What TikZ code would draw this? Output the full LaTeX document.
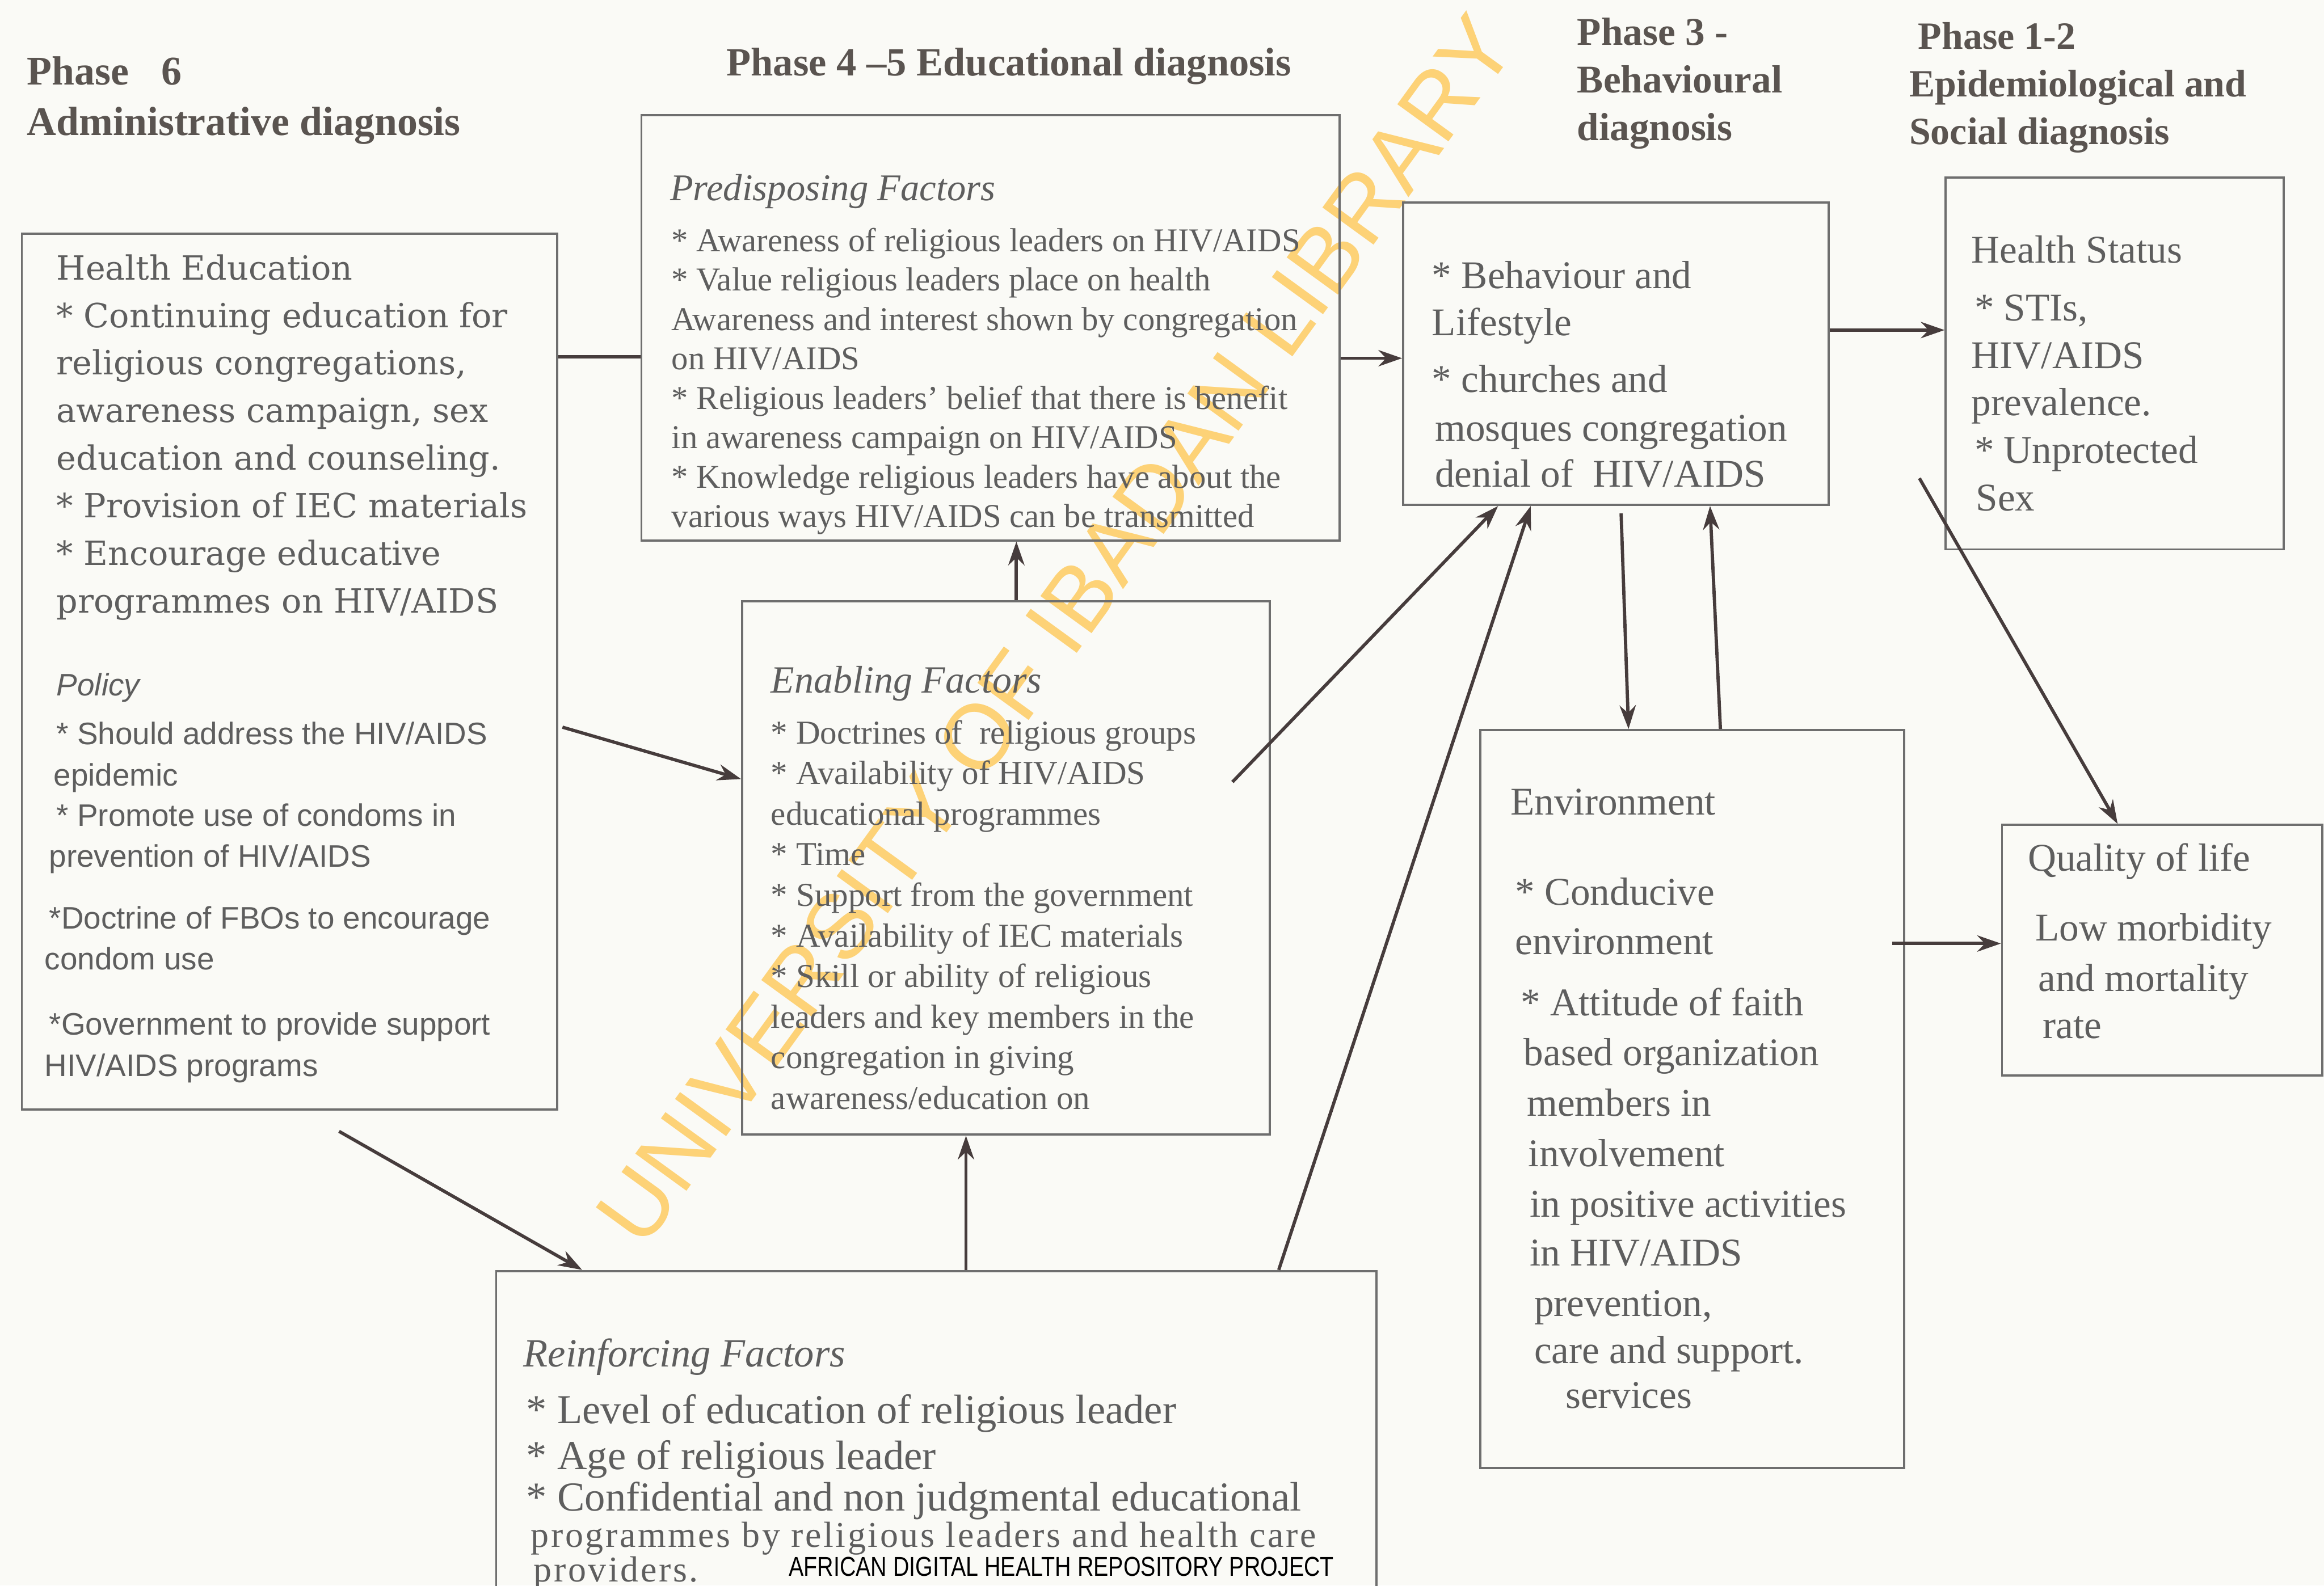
\documentclass[tikz,border=0pt]{standalone}
\usepackage{fontspec}
\setmainfont{Liberation Serif}
\newfontfamily\hefont{DejaVu Serif}
\newfontfamily\polfont{Liberation Sans}
\newfontfamily\wmfont{Liberation Sans}
\newfontfamily\footfont[FakeStretch=0.82]{Liberation Sans}
\newfontfamily\spacedfont[LetterSpace=5.6]{Liberation Serif}
\usetikzlibrary{arrows.meta}
\definecolor{bgc}{HTML}{FAFAF6}
\definecolor{boxc}{HTML}{6E6E6E}
\definecolor{txtc}{HTML}{5E5E5E}
\definecolor{headc}{HTML}{5A5450}
\definecolor{arrc}{HTML}{463C3C}
\definecolor{wmc}{HTML}{FDD277}
\begin{document}
\begin{tikzpicture}[x=1pt,y=-1pt,
  box/.style={draw=boxc, line width=1.5pt, inner sep=0pt, anchor=north west},
  txt/.style={anchor=north west, inner sep=0pt, align=left, text=txtc},
  head/.style={anchor=north west, inner sep=0pt, align=left, text=headc, font=\fontsize{27.5}{34}\selectfont\bfseries},
  arr/.style={draw=arrc, line width=2.2pt, -{Stealth[length=16pt,width=11pt]}},
  link/.style={draw=arrc, line width=2.2pt}]
\path[use as bounding box] (0,0) rectangle (1568,1070);
\fill[bgc] (0,0) rectangle (1568,1070);
\clip (0,0) rectangle (1568,1070);

% watermark
\node[rotate=54, text=wmc, font=\wmfont\fontsize{62}{62}\selectfont, inner sep=0pt] (wm) at (712,425) {UNIVERSITY OF IBADAN LIBRARY};

% headings
\node[head] (h6) at (18,38) {Phase\hspace{22pt}6\\ Administrative diagnosis};
\node[head, font=\fontsize{27}{34}\selectfont\bfseries] (h45) at (490,32) {Phase 4 –5 Educational diagnosis};
\node[head, font=\fontsize{26.5}{32}\selectfont\bfseries] (h3) at (1064,12) {Phase 3 -\\ Behavioural\\ diagnosis};
\node[head, font=\fontsize{26}{32}\selectfont\bfseries] (h12) at (1288,15) {\hspace*{6pt}Phase 1-2\\ Epidemiological and\\ Social diagnosis};

% boxes
\node[box, minimum width=361pt, minimum height=591pt] (adm) at (14,157) {};
\node[box, minimum width=471pt, minimum height=287pt] (pred) at (432,77) {};
\node[box, minimum width=356pt, minimum height=360pt] (enab) at (500,405) {};
\node[box, minimum width=594pt, minimum height=240pt] (reinf) at (334,857) {};
\node[box, minimum width=287pt, minimum height=204pt] (beh) at (946,136) {};
\node[box, minimum width=228pt, minimum height=251pt] (hs) at (1312,119) {};
\node[box, minimum width=286pt, minimum height=498pt] (env) at (998,492) {};
\node[box, minimum width=216pt, minimum height=169pt] (qol) at (1350,556) {};

% left box text
\node[txt, font=\hefont\fontsize{22.5}{32.1}\selectfont] (hetxt) at (38,171.5) {Health Education\\ {*} Continuing education for\\ religious congregations,\\ awareness campaign, sex\\ education and counseling.\\ {*} Provision of IEC materials\\ {*} Encourage educative\\ programmes on HIV/AIDS};
\node[txt, font=\polfont\fontsize{21}{27.3}\selectfont] (pol) at (30,454) {\hspace*{8pt}\textit{Policy}\\[5.7pt]
 \hspace*{8pt}{*} Should address the HIV/AIDS\\[0.7pt]
 \hspace*{6pt}epidemic\\
 \hspace*{8pt}{*} Promote use of condoms in\\
 \hspace*{3pt}prevention of HIV/AIDS\\[14.7pt]
 \hspace*{3pt}{*}Doctrine of FBOs to encourage\\
 condom use\\[16.7pt]
 \hspace*{3pt}{*}Government to provide support\\[0.7pt]
 HIV/AIDS programs};

% predisposing
\node[txt, font=\itshape\fontsize{25.5}{30}\selectfont] (predt) at (452,117.6) {Predisposing Factors};
\node[txt, font=\fontsize{22.5}{26.6}\selectfont] (predl) at (453,153.6) {{*} Awareness of religious leaders on HIV/AIDS\\ {*} Value religious leaders place on health\\ Awareness and interest shown by congregation\\ on HIV/AIDS\\ {*} Religious leaders’ belief that there is benefit\\ in awareness campaign on HIV/AIDS\\ {*} Knowledge religious leaders have about the\\ various ways HIV/AIDS can be transmitted};

% enabling
\node[txt, font=\itshape\fontsize{26}{30}\selectfont] (enabt) at (520,449.4) {Enabling Factors};
\node[txt, font=\fontsize{22.6}{27.4}\selectfont] (enabl) at (520,485.8) {{*} Doctrines of\ \ religious groups\\ {*} Availability of HIV/AIDS\\ educational programmes\\ {*} Time\\ {*} Support from the government\\ {*} Availability of IEC materials\\ {*} Skill or ability of religious\\ leaders and key members in the\\ congregation in giving\\ awareness/education on};

% reinforcing
\node[txt, font=\itshape\fontsize{27}{30}\selectfont] (reint) at (353,903) {Reinforcing Factors};
\node[txt, font=\fontsize{27.8}{31}\selectfont] (reinl) at (355,940.7) {{*} Level of education of religious leader\\ {*} Age of religious leader\\[-3pt] {*} Confidential and non judgmental educational};
\node[txt, font=\spacedfont\fontsize{24.5}{21.5}\selectfont] (reinl2) at (358,1027) {programmes by religious leaders and health care\\ \hspace*{2pt}providers.};
\node[anchor=north west, inner sep=0pt, font=\footfont\fontsize{18.4}{20}\selectfont, text=black] (foot) at (532,1050.4) {AFRICAN DIGITAL HEALTH REPOSITORY PROJECT};

% behaviour
\node[txt, font=\fontsize{26.5}{32}\selectfont] (behl) at (966,176) {{*} Behaviour and\\ Lifestyle\\[6pt] {*} churches and\\[1pt] \hspace*{2pt}mosques congregation\\[-1pt] \hspace*{2pt}denial of\ \ HIV/AIDS};

% health status
\node[txt, font=\fontsize{26.5}{32}\selectfont] (hsl) at (1330,159) {Health Status\\[7pt] \hspace*{2pt}{*} STIs,\\ HIV/AIDS\\ prevalence.\\ \hspace*{2pt}{*} Unprotected\\ \hspace*{3pt}Sex};

% environment
\node[txt, font=\fontsize{26.5}{33.5}\selectfont] (envl) at (1019,532) {Environment\\[27.5pt]
 \hspace*{3pt}{*} Conducive\\
 \hspace*{3pt}environment\\[7.5pt]
 \hspace*{7pt}{*} Attitude of faith\\[0.5pt]
 \hspace*{9pt}based organization\\[0.5pt]
 \hspace*{11pt}members in\\[0.5pt]
 \hspace*{12pt}involvement\\[0.5pt]
 \hspace*{13pt}in positive activities\\[-0.5pt]
 \hspace*{13pt}in HIV/AIDS\\[0.5pt]
 \hspace*{16pt}prevention,\\[-1.5pt]
 \hspace*{16pt}care and support.\\[-3.5pt]
 \hspace*{37pt}services};

% quality of life
\node[txt, font=\fontsize{26.5}{33}\selectfont] (qoll) at (1368,569) {Quality of life\\[14pt] \hspace*{5pt}Low morbidity\\[1pt] \hspace*{7pt}and mortality\\[-1pt] \hspace*{10pt}rate};

% connectors
\draw[link] ([yshift=212.5pt]adm.east) -- ([yshift=-19.5pt]pred.west);
\draw[arr] ([yshift=-20.5pt]pred.east) -- ([yshift=-3pt]beh.west);
\draw[arr] ([yshift=-37.5pt, xshift=3pt]adm.east) -- ([yshift=60pt]enab.west);
\draw[arr] ([xshift=33.5pt, yshift=-14pt]adm.south) -- ([xshift=-239pt]reinf.north);
\draw[arr] ([xshift=7pt]enab.north) -- ([xshift=17.5pt]pred.south);
\draw[arr] ([xshift=20pt]reinf.north) -- ([xshift=-27pt]enab.south);
\draw[arr] ([xshift=231pt]reinf.north) -- ([xshift=-57.5pt]beh.south);
\draw[arr] ([xshift=-26pt, yshift=58pt]enab.east) -- ([xshift=-79.5pt]beh.south);
\draw[arr] ([xshift=3.5pt, yshift=-5pt]beh.south) -- ([xshift=-43pt]env.north);
\draw[arr] ([xshift=19pt]env.north) -- ([xshift=63.5pt]beh.south);
\draw[arr] ([yshift=16pt]beh.east) -- ([yshift=22.5pt]hs.west);
\draw[arr] ([xshift=-17pt, yshift=-77.5pt]hs.west) -- ([xshift=-30pt]qol.north);
\draw[arr] ([xshift=-9pt, yshift=105pt]env.east) -- ([yshift=4.5pt]qol.west);
\end{tikzpicture}
\end{document}
